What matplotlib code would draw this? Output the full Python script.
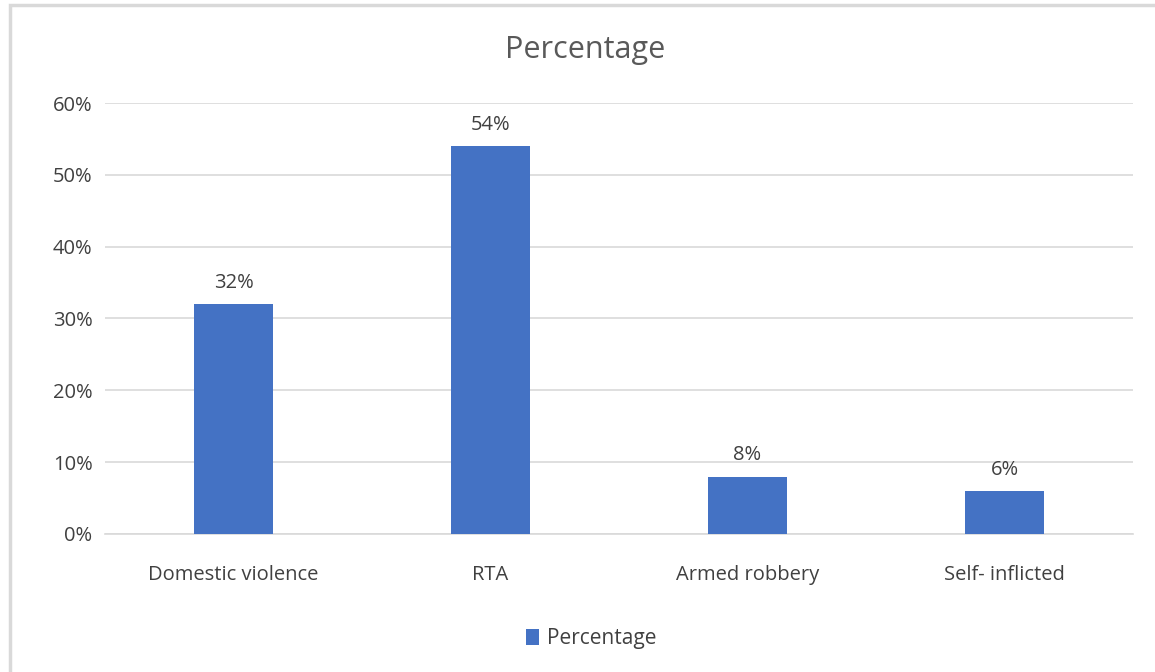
import matplotlib
matplotlib.use('Agg')
import matplotlib.pyplot as plt
from matplotlib.patches import Rectangle
from matplotlib.ticker import FuncFormatter

plt.rcParams['font.family'] = ['Open Sans', 'DejaVu Sans']

categories = ['Domestic violence', 'RTA', 'Armed robbery', 'Self- inflicted']
values = [32, 54, 8, 6]
series_name = 'Percentage'

fig = plt.figure(figsize=(11.55, 6.72), dpi=100)
ax = fig.add_axes([0.0909, 0.2054, 0.8900, 0.6413])

# outer chart frame
fig.patches.append(Rectangle((10 / 1155, -0.1), 1.2, 1 - 5 / 672 + 0.1,
                             transform=fig.transFigure, fill=False,
                             edgecolor='#D9D9D9', linewidth=2.5))

x = list(range(len(categories)))
bars = ax.bar(x, values, width=0.31, color='#4472C4', label=series_name, zorder=3)
for b, v in zip(bars, values):
    ax.annotate(f'{v}%', (b.get_x() + b.get_width() / 2, v), xytext=(0, 8),
                textcoords='offset points', ha='center', va='bottom',
                fontsize=14.5, color='#404040')

ax.set_xlim(-0.5, len(categories) - 0.5)
ax.set_ylim(0, 60)
ax.set_yticks(range(0, 61, 10))
ax.yaxis.set_major_formatter(FuncFormatter(lambda v, p: f'{int(v)}%'))
ax.set_xticks(x)
ax.set_xticklabels(categories)
ax.tick_params(axis='both', length=0, labelsize=14.5, labelcolor='#404040')
ax.tick_params(axis='x', pad=22)
ax.tick_params(axis='y', pad=9)
ax.grid(axis='y', color='#D9D9D9', linewidth=1.2, zorder=0)
for s in ['top', 'right', 'left']:
    ax.spines[s].set_visible(False)
ax.spines['bottom'].set_color('#D9D9D9')
ax.spines['bottom'].set_linewidth(1.2)

fig.text(0.507, 0.925, 'Percentage', ha='center', va='center', fontsize=22, color='#595959')
fig.legend(loc='center', bbox_to_anchor=(0.512, 0.05), frameon=False, fontsize=15,
           labelcolor='#404040', handlelength=0.6, handleheight=0.8, handletextpad=0.4)

plt.savefig('out.png')
